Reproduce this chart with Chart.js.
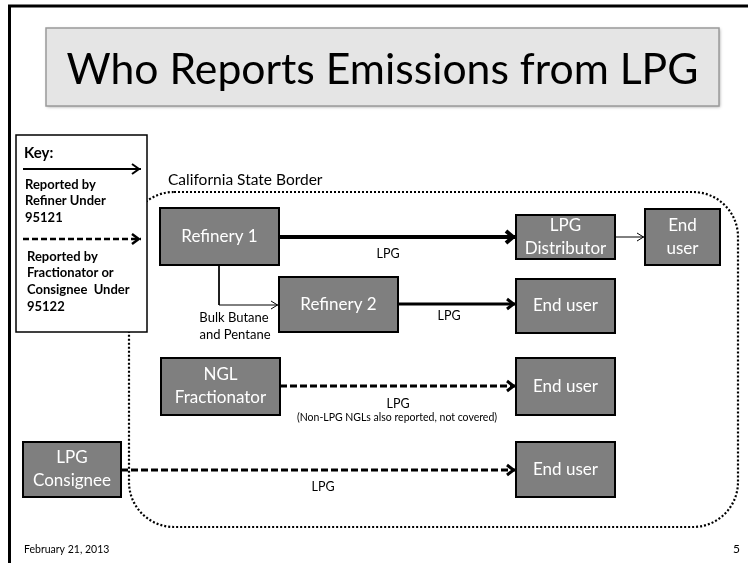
<!DOCTYPE html>
<html>
<head>
<meta charset="utf-8">
<script src="https://cdn.jsdelivr.net/npm/chart.js@4.4.0/dist/chart.umd.min.js"></script>
<style>
  html, body { margin: 0; padding: 0; background: #fff; }
  canvas { display: block; }
</style>
</head>
<body>
<canvas id="flowChart" width="748" height="563"></canvas>
<script>
// diagram units follow the slide grid (0..748 across, 0..563 down)
const boxNames  = ['Refinery 1', 'Refinery 2', 'LPG\nDistributor', 'End\nuser', 'End user',
                   'NGL\nFractionator', 'End user', 'LPG\nConsignee', 'End user'];
const boxLeft   = [160, 279, 516, 645, 516, 161, 516, 23, 516];
const boxRight  = [279, 398, 615, 720, 615, 280, 615, 121, 615];
const boxTop    = [208, 277, 215, 209, 279, 358, 358, 442, 442];
const boxBottom = [265, 332, 259, 265, 333, 415, 415, 497, 497];

// product flows between the boxes, plus the two sample arrows of the key
const flowPaths = [
  [[279, 237], [516, 237]],
  [[615, 237], [645, 237]],
  [[219, 265], [219, 305], [279, 305]],
  [[398, 304], [516, 304]],
  [[280, 386], [516, 386]],
  [[121, 470], [516, 470]],
  [[23, 169], [141, 169]],
  [[23, 239], [141, 239]]
];
const flowKinds = ['refiner', 'thin', 'thin', 'refiner2', 'fractionator', 'fractionator', 'keyRefiner', 'keyFractionator'];

const noteTexts = ['LPG', 'Bulk Butane', 'and Pentane', 'LPG', 'LPG',
                   '(Non-LPG NGLs also reported, not covered)', 'LPG'];
const noteX = [388, 234, 235, 449, 398, 397, 323];
const noteY = [254, 318, 335, 316, 404, 418, 487];

const keyLines = ['Reported by', 'Refiner Under', '95121', 'Reported by', 'Fractionator or', 'Consignee  Under', '95122'];
const keyLineY = [185, 201, 218, 257, 273, 290, 307];

const titleText = 'Who Reports Emissions from LPG';
const borderText = 'California State Border';
const footerDate = 'February 21, 2013';
const pageNo = '5';

const FONT = 'Lato, "Open Sans", sans-serif';
const flowStyle = {
  refiner:         { width: 4,   dash: [],     head: 9, spread: 6 },
  refiner2:        { width: 3,   dash: [],     head: 8, spread: 5 },
  thin:            { width: 1,   dash: [],     head: 7, spread: 4 },
  fractionator:    { width: 3,   dash: [7, 3], head: 8, spread: 5 },
  keyRefiner:      { width: 2,   dash: [],     head: 8, spread: 5 },
  keyFractionator: { width: 2.5, dash: [6, 3], head: 8, spread: 5 }
};

function X(chart, v) { return chart.scales.x.getPixelForValue(v); }
function Y(chart, v) { return chart.scales.y.getPixelForValue(v); }

const slidePlugin = {
  id: 'slide',
  beforeDatasetsDraw(chart) {
    const ctx = chart.ctx;
    ctx.save();

    // slide frame (top and left only)
    ctx.strokeStyle = '#000';
    ctx.lineWidth = 3;
    ctx.beginPath();
    ctx.moveTo(X(chart, 8), Y(chart, 6));
    ctx.lineTo(X(chart, 748), Y(chart, 6));
    ctx.moveTo(X(chart, 9.5), Y(chart, 5));
    ctx.lineTo(X(chart, 9.5), Y(chart, 563));
    ctx.stroke();

    // title box
    const tx0 = X(chart, 46), tx1 = X(chart, 719), ty0 = Y(chart, 28), ty1 = Y(chart, 106);
    ctx.shadowColor = 'rgba(0,0,0,0.35)';
    ctx.shadowBlur = 3;
    ctx.shadowOffsetX = 1;
    ctx.shadowOffsetY = 1;
    ctx.fillStyle = '#e5e5e5';
    ctx.fillRect(tx0, ty0, tx1 - tx0, ty1 - ty0);
    ctx.shadowColor = 'transparent';
    ctx.strokeStyle = '#9a9a9a';
    ctx.lineWidth = 1.5;
    ctx.strokeRect(tx0, ty0, tx1 - tx0, ty1 - ty0);
    ctx.fillStyle = '#000';
    ctx.textAlign = 'center';
    ctx.textBaseline = 'middle';
    ctx.font = '40px ' + FONT;
    const w = ctx.measureText(titleText).width;
    ctx.font = (40 * 632 / w).toFixed(1) + 'px ' + FONT;
    ctx.fillText(titleText, (tx0 + tx1) / 2, Y(chart, 70));

    // state border
    ctx.strokeStyle = '#000';
    ctx.lineWidth = 2.2;
    ctx.setLineDash([2, 2]);
    ctx.beginPath();
    ctx.roundRect(X(chart, 129), Y(chart, 192), X(chart, 738) - X(chart, 129), Y(chart, 527) - Y(chart, 192), 45);
    ctx.stroke();
    ctx.setLineDash([]);
    ctx.textAlign = 'left';
    ctx.font = '15.5px ' + FONT;
    ctx.fillText(borderText, X(chart, 168), Y(chart, 180));

    // key box
    const kx0 = X(chart, 16), kx1 = X(chart, 147), ky0 = Y(chart, 135), ky1 = Y(chart, 332);
    ctx.fillStyle = '#fff';
    ctx.fillRect(kx0, ky0, kx1 - kx0, ky1 - ky0);
    ctx.strokeStyle = '#000';
    ctx.lineWidth = 1.5;
    ctx.strokeRect(kx0, ky0, kx1 - kx0, ky1 - ky0);
    ctx.fillStyle = '#000';
    ctx.font = 'bold 15px ' + FONT;
    ctx.fillText('Key:', X(chart, 24), Y(chart, 153));
    ctx.font = 'bold 13px ' + FONT;
    keyLines.forEach(function(t, i) {
      ctx.fillText(t, X(chart, i < 3 ? 25 : 27), Y(chart, keyLineY[i]));
    });
    ctx.restore();
  },
  afterDatasetsDraw(chart) {
    const ctx = chart.ctx;
    ctx.save();

    // arrow heads
    flowPaths.forEach(function(path, i) {
      const st = flowStyle[flowKinds[i]];
      const a = path[path.length - 2], b = path[path.length - 1];
      const bx = X(chart, b[0]) - 1, by = Y(chart, b[1]);
      const dx = X(chart, b[0]) - X(chart, a[0]), dy = Y(chart, b[1]) - Y(chart, a[1]);
      const len = Math.hypot(dx, dy), ux = dx / len, uy = dy / len;
      ctx.strokeStyle = '#000';
      ctx.lineWidth = st.width;
      ctx.lineJoin = 'miter';
      ctx.beginPath();
      ctx.moveTo(bx - ux * st.head - uy * st.spread, by - uy * st.head + ux * st.spread);
      ctx.lineTo(bx - ux * st.width / 2, by);
      ctx.lineTo(bx - ux * st.head + uy * st.spread, by - uy * st.head - ux * st.spread);
      ctx.stroke();
    });

    // process boxes
    ctx.textAlign = 'center';
    ctx.textBaseline = 'middle';
    boxNames.forEach(function(name, i) {
      const x0 = X(chart, boxLeft[i]), x1 = X(chart, boxRight[i]);
      const y0 = Y(chart, boxTop[i]), y1 = Y(chart, boxBottom[i]);
      ctx.fillStyle = '#7f7f7f';
      ctx.fillRect(x0, y0, x1 - x0, y1 - y0);
      ctx.strokeStyle = '#000';
      ctx.lineWidth = 2;
      ctx.strokeRect(x0, y0, x1 - x0, y1 - y0);
      ctx.fillStyle = '#fff';
      ctx.font = '17px ' + FONT;
      const lines = name.split('\n');
      const cy = (y0 + y1) / 2, gap = 23;
      lines.forEach(function(t, j) {
        ctx.fillText(t, (x0 + x1) / 2, cy + (j - (lines.length - 1) / 2) * gap);
      });
    });

    // flow notes
    ctx.fillStyle = '#000';
    noteTexts.forEach(function(t, i) {
      let size = '12.5px ';
      if (t.charAt(0) === '(') size = '10.5px ';
      else if (t !== 'LPG') size = '13px ';
      ctx.font = size + FONT;
      ctx.fillText(t, X(chart, noteX[i]), Y(chart, noteY[i]));
    });

    // footer
    ctx.font = '10.5px ' + FONT;
    ctx.textAlign = 'left';
    ctx.fillText(footerDate, X(chart, 24), Y(chart, 550));
    ctx.textAlign = 'right';
    ctx.font = '12px ' + FONT;
    ctx.fillText(pageNo, X(chart, 740), Y(chart, 549));
    ctx.restore();
  }
};

const datasets = flowPaths.map(function(path, i) {
  const st = flowStyle[flowKinds[i]];
  return {
    label: flowKinds[i],
    data: path.map(function(p) { return { x: p[0], y: p[1] }; }),
    showLine: true,
    borderColor: '#000',
    borderWidth: st.width,
    borderDash: st.dash,
    borderCapStyle: 'butt',
    pointRadius: 0,
    fill: false,
    tension: 0
  };
});

new Chart(document.getElementById('flowChart'), {
  type: 'scatter',
  data: { datasets: datasets },
  options: {
    responsive: false,
    animation: false,
    layout: { padding: 0 },
    plugins: { legend: { display: false }, tooltip: { enabled: false } },
    scales: {
      x: { type: 'linear', min: 0, max: 748, display: false },
      y: { type: 'linear', min: 0, max: 563, reverse: true, display: false }
    }
  },
  plugins: [slidePlugin]
});
</script>
</body>
</html>
